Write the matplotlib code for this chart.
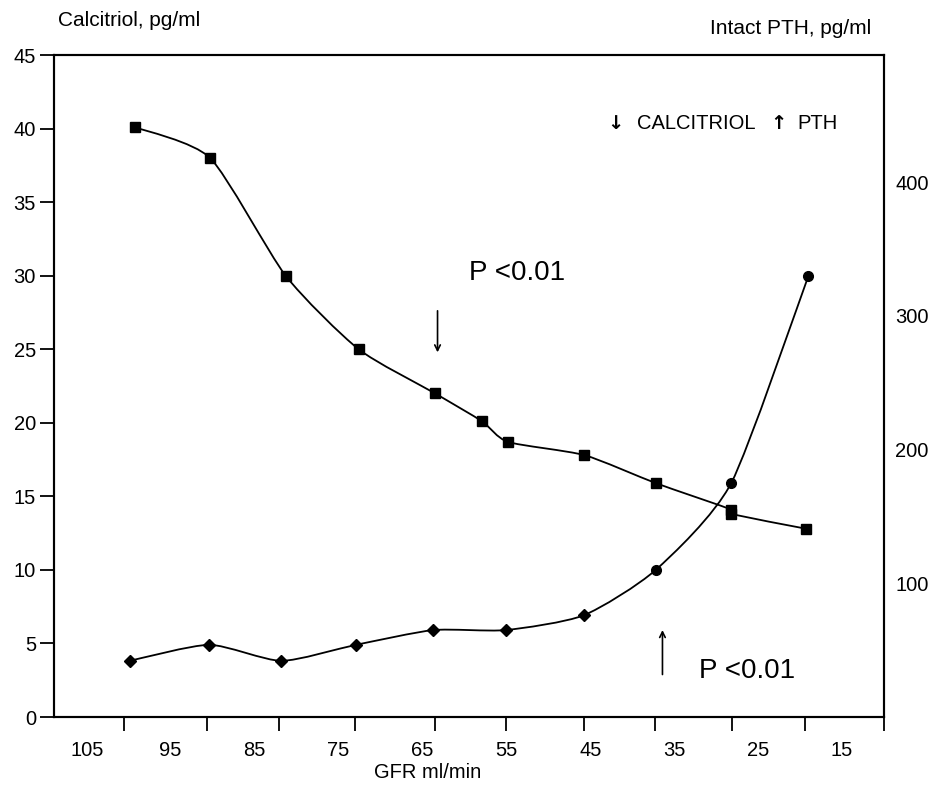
import numpy as np
import matplotlib.pyplot as plt
from matplotlib.path import Path
from matplotlib.patches import PathPatch

plt.rcParams['font.family'] = ['Liberation Sans', 'DejaVu Sans']

# GFR (ml/min) where each calcitriol value was measured
gfr_calcitriol = [99.3, 90.3, 81.3, 72.6, 63.5, 57.9, 54.8, 45.7, 37.2, 28.2, 28.2, 19.3]
calcitriol = [40.1, 38.0, 30.0, 25.0, 22.0, 20.1, 18.7, 17.8, 15.9, 14.1, 13.8, 12.8]

# GFR and intact PTH (pg/ml)
gfr_pth = [99.9, 90.4, 81.8, 72.9, 63.7, 55.1, 45.8, 37.2, 28.2, 19.0]
pth = [42, 54, 42, 54, 65, 65, 76, 110, 175, 330]

gfr_labels = [105, 95, 85, 75, 65, 55, 45, 35, 25, 15]
gfr_tickmarks = [100.5, 90.7, 82.1, 73.0, 63.5, 55.1, 45.7, 37.3, 28.1, 19.4, 10.0]
calcitriol_ticks = list(range(0, 46, 5))
pth_ticks = [100, 200, 300, 400]


def smooth_path(x, y, k=9.0):
    # cubic through the measured points, mild tension
    pts = np.column_stack([x, y]).astype(float)
    n = len(pts)
    verts = [pts[0]]
    codes = [Path.MOVETO]
    for i in range(n - 1):
        p0 = pts[max(i - 1, 0)]
        p1 = pts[i]
        p2 = pts[i + 1]
        p3 = pts[min(i + 2, n - 1)]
        verts += [p1 + (p2 - p0) / k, p2 - (p3 - p1) / k, p2]
        codes += [Path.CURVE4] * 3
    return Path(verts, codes)


fig = plt.figure(figsize=(9.34, 8.09), dpi=100)
ax = fig.add_axes([0.0578, 0.1137, 0.8887, 0.8183])
ax.set_xlim(108.9, 10.0)
ax.set_ylim(0, 45)

ax.add_patch(PathPatch(smooth_path(gfr_calcitriol, calcitriol), fill=False,
                       lw=1.3, color='black', transform=ax.transData))
ax.plot(gfr_calcitriol, calcitriol, ls='none', marker='s', ms=7, color='black')

ax.set_yticks(calcitriol_ticks)
ax.tick_params(axis='y', direction='out', length=10, width=1.3, pad=3, labelsize=14.5)
ax.set_xticks(gfr_labels)
ax.set_xticks(gfr_tickmarks, minor=True)
ax.tick_params(axis='x', which='major', length=0, pad=17, labelsize=14.5)
ax.tick_params(axis='x', which='minor', direction='out', length=10, width=1.3)
for s in ax.spines.values():
    s.set_linewidth(1.5)

ax2 = ax.twinx()
ax2.set_ylim(0, 495)
ax2.add_patch(PathPatch(smooth_path(gfr_pth, pth), fill=False,
                        lw=1.3, color='black', transform=ax2.transData))
ax2.plot(gfr_pth[:7], pth[:7], ls='none', marker='D', ms=6, color='black')
ax2.plot(gfr_pth[7:], pth[7:], ls='none', marker='o', ms=7, color='black')
ax2.set_yticks(pth_ticks)
ax2.tick_params(axis='y', length=0, pad=8, labelsize=14.5)
for s in ax2.spines.values():
    s.set_linewidth(1.5)

# significance annotations
ax.text(59.4, 30.2, 'P <0.01', fontsize=20, va='center', ha='left')
ax.annotate('', xy=(63.2, 24.6), xytext=(63.2, 27.8),
            arrowprops=dict(arrowstyle='->', lw=1.2, color='black'))
ax.text(32.0, 3.1, 'P <0.01', fontsize=20, va='center', ha='left')
ax.annotate('', xy=(36.4, 6.1), xytext=(36.4, 2.7),
            arrowprops=dict(arrowstyle='->', lw=1.2, color='black'))

# legend row
ax.text(0.667, 0.897, '\u2193', transform=ax.transAxes, fontsize=14,
        fontweight='bold', family='DejaVu Sans', va='center', ha='left')
ax.text(0.702, 0.897, 'CALCITRIOL', transform=ax.transAxes,
        fontsize=14.5, va='center', ha='left')
ax.text(0.863, 0.897, '\u2191', transform=ax.transAxes, fontsize=14,
        fontweight='bold', family='DejaVu Sans', va='center', ha='left')
ax.text(0.896, 0.897, 'PTH', transform=ax.transAxes,
        fontsize=14.5, va='center', ha='left')

fig.text(0.062, 0.975, 'Calcitriol, pg/ml', fontsize=15, va='center', ha='left')
fig.text(0.933, 0.965, 'Intact PTH, pg/ml', fontsize=15, va='center', ha='right')
fig.text(0.458, 0.0445, 'GFR ml/min', fontsize=14.5, va='center', ha='center')

fig.savefig('out.png', dpi=100)
